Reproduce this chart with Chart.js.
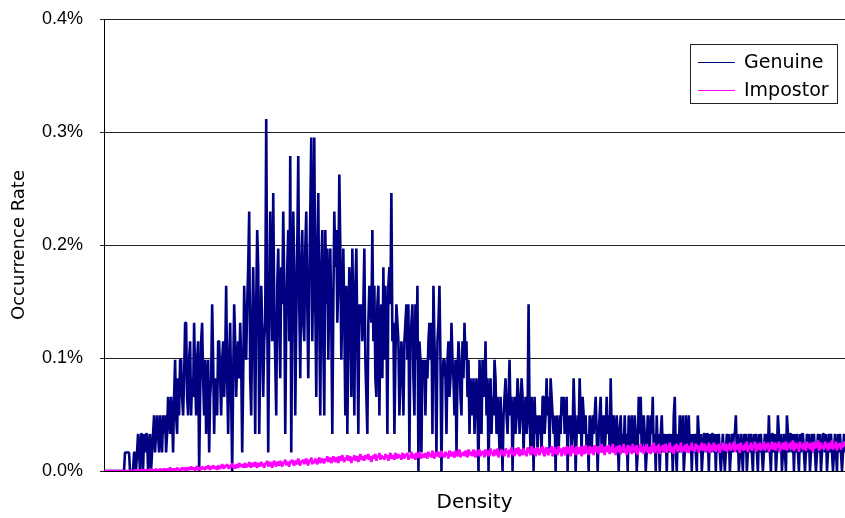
<!DOCTYPE html>
<html>
<head>
<meta charset="utf-8">
<script src="https://cdn.jsdelivr.net/npm/chart.js@4.4.1/dist/chart.umd.min.js"></script>
<style>
  html, body { margin: 0; padding: 0; background: #fff; }
  #wrap { width: 845px; height: 518px; }
</style>
</head>
<body>
<div id="wrap"><canvas id="rateChart"></canvas></div>
<script>
// Occurrence rate per density bin.
// Genuine: counts per bin (one count = 0.0164 % of all genuine samples), 20 bins per row.
const genuineCounts = [
    0,0,0,0,0,0,0,0,0,0,0,0,0,0,0,0,0,0,0,0,
    0,1,1,1,1,1,0,0,0,0,1,1,0,1,2,1,0,2,2,0,
    2,1,2,2,0,1,2,0,1,2,3,1,2,3,2,1,3,2,1,3,
    2,3,1,2,4,3,2,4,3,1,4,6,3,2,5,3,6,6,4,3,
    5,8,8,4,3,6,7,3,5,4,8,5,3,6,7,0,4,7,8,5,
    3,6,2,5,6,1,4,5,9,6,2,5,4,3,7,7,5,3,6,7,
    4,6,10,5,2,6,8,4,0,5,9,7,4,6,7,5,8,6,1,5,
    10,7,6,9,11,14,5,3,8,11,7,2,9,13,11,2,6,10,8,4,
    7,8,19,9,1,8,14,10,7,15,9,6,3,10,12,8,5,11,9,14,
    10,2,8,11,13,7,17,1,9,14,11,3,8,12,17,9,5,11,13,8,
    7,12,14,9,5,10,14,18,7,11,18,9,4,12,15,8,3,11,13,7,
    3,13,9,12,6,10,12,8,2,9,14,11,13,8,10,16,12,6,9,12,
    8,3,10,2,7,11,9,4,12,8,3,10,12,7,2,9,8,9,7,9,
    12,6,4,2,8,10,9,8,13,7,10,5,4,9,10,3,8,9,5,11,
    6,10,8,2,10,11,9,15,7,8,2,6,9,8,7,3,5,7,6,3,
    7,8,9,6,9,1,7,8,9,5,3,9,6,10,0,7,6,1,6,5,
    6,3,6,5,7,8,6,8,2,10,7,5,1,7,8,10,6,0,5,6,
    6,5,2,6,7,4,5,8,6,5,3,6,1,5,7,6,4,3,7,5,
    8,6,7,4,6,2,5,4,3,5,2,4,5,3,0,6,4,2,6,5,
    4,7,3,5,0,4,5,2,4,3,6,5,2,4,3,1,4,2,0,3,
    4,5,3,2,4,6,3,4,0,3,4,2,3,5,4,2,3,5,4,1,
    3,4,2,3,9,3,1,4,3,0,4,2,3,1,3,2,3,1,4,4,
    2,3,5,3,4,1,5,4,3,2,3,0,3,2,1,3,2,4,3,4,
    2,3,4,0,3,2,3,1,2,5,3,0,2,3,2,5,3,1,4,3,
    2,3,1,2,0,3,2,1,3,2,3,4,2,0,2,3,4,1,2,3,
    1,2,4,2,3,1,5,2,1,3,2,1,3,2,0,2,3,1,2,1,
    3,1,2,0,3,2,1,3,2,1,3,2,0,1,4,2,4,1,2,3,
    2,0,1,3,2,1,3,2,4,1,2,0,3,1,2,0,2,3,1,2,
    1,2,0,2,1,2,1,2,0,3,4,1,0,2,1,3,2,1,3,0,
    1,3,2,1,3,1,2,0,2,1,2,1,0,3,2,1,2,0,1,2,
    2,1,2,2,0,2,1,2,2,1,2,0,2,1,2,1,0,1,2,1,
    0,1,2,1,2,0,1,2,1,2,2,3,1,2,0,1,2,1,0,2,
    1,2,0,1,2,1,2,1,0,2,1,2,1,0,2,1,2,1,0,1,
    2,1,2,1,3,1,0,2,2,1,2,0,1,3,2,1,2,0,1,2,
    1,0,3,2,1,2,2,1,2,0,2,1,2,1,0,2,1,2,2,1,
    0,1,2,1,2,0,1,2,1,2,1,0,1,2,1,2,0,1,2,2,
    1,2,0,1,2,1,2,1,0,1,2,1,0,2,1,2,1,0,1,2,
    1
];
const genuineStep = 0.0164;

// Impostor: rate per bin in thousandths of a percent, 20 bins per row.
const impostorMilli = [
    0,0,0,0,0,0,0,0,0,0,0,0,0,0,0,0,0,0,0,0,
    0,0,0,0,0,0,0,0,0,0,0,0,1,0,0,1,0,0,1,0,
    1,0,1,0,0,1,0,2,0,1,0,1,2,0,1,0,2,1,0,1,
    2,0,1,2,0,1,3,1,0,2,1,2,0,3,1,2,0,1,3,2,
    1,3,0,2,3,1,2,4,1,3,2,0,3,4,1,2,3,1,4,2,
    3,1,4,2,5,3,1,4,2,5,3,2,4,1,5,3,2,4,6,3,
    2,5,4,6,3,2,5,4,7,3,5,2,6,4,3,7,5,4,6,3,
    5,7,3,6,4,8,5,3,7,6,4,8,5,3,7,6,4,8,6,5,
    3,7,6,9,4,6,8,5,3,7,9,6,4,8,7,5,9,6,4,8,
    7,10,5,8,6,4,9,7,10,6,5,9,8,6,11,7,5,9,8,10,
    6,9,11,7,5,10,8,12,6,9,7,11,8,6,10,12,7,9,11,8,
    7,11,9,13,8,10,12,7,9,13,10,8,12,11,7,13,9,11,14,10,
    8,12,10,14,9,11,13,7,12,10,14,9,11,13,8,12,15,10,11,13,
    9,14,11,12,15,10,13,8,12,14,11,15,9,13,12,16,10,14,11,13,
    10,15,12,14,9,13,16,11,14,12,10,16,13,11,15,12,14,10,16,13,
    11,15,13,16,10,14,12,17,11,15,13,10,16,14,12,17,13,11,15,14,
    12,16,14,11,17,13,15,12,18,14,11,16,15,13,17,12,14,18,13,15,
    12,17,14,16,11,18,15,13,17,14,12,18,16,13,15,19,12,16,14,17,
    13,18,15,12,19,16,14,17,13,19,15,12,18,16,14,19,13,17,15,18,
    12,19,16,14,18,13,20,15,17,13,19,16,14,20,12,17,15,19,14,18,
    13,20,16,18,12,19,15,21,14,17,13,20,18,15,21,13,17,19,14,20,
    15,18,13,21,16,19,14,22,17,15,20,13,18,21,16,14,20,17,22,15,
    13,19,21,16,14,20,18,22,13,17,21,15,19,14,22,17,20,13,18,21,
    16,14,22,19,15,21,13,18,23,16,20,14,22,17,15,21,19,13,22,18,
    15,23,17,20,14,22,18,16,21,14,23,19,17,22,15,20,18,24,16,21,
    14,22,19,17,23,15,21,18,24,16,20,14,22,19,17,23,15,21,18,24,
    16,20,14,23,19,17,22,15,24,18,21,16,23,14,20,19,24,17,21,15,
    22,18,24,16,21,19,15,23,17,25,20,16,22,18,24,15,21,19,23,17,
    20,24,16,22,18,25,17,21,19,15,23,20,24,17,22,18,25,16,21,19,
    23,17,24,20,16,22,19,25,18,21,17,24,20,23,16,22,19,25,18,21,
    24,17,22,19,25,16,21,23,18,25,20,17,23,19,24,16,22,20,25,18,
    21,24,17,23,19,25,18,22,20,26,17,23,19,24,21,16,25,20,22,18,
    24,19,26,17,22,20,25,18,23,21,26,17,24,19,22,25,18,23,20,26,
    18,24,21,25,17,23,20,26,19,22,25,18,24,21,26,17,23,20,25,19,
    22,26,18,24,21,25,19,23,27,18,22,25,20,24,17,26,21,23,19,25,
    22,18,26,21,24,19,25,22,17,26,20,24,21,27,18,23,25,20,22,19,
    26,21,24,18,25,22,20,27,19,23,21,26,18,24,22,25,19,23,21,26,
    22
];

const seriesNames = ['Genuine', 'Impostor'];
const seriesColors = ['#000080', '#ff00ff'];
const yTicks = [0, 0.1, 0.2, 0.3, 0.4];

const bins = genuineCounts.map((_, i) => i);
const genuineRate = genuineCounts.map(c => c * genuineStep);
const impostorRate = impostorMilli.map(v => v / 1000);

// legend drawn as a boxed key in the top right of the plot
const boxedLegend = {
    id: 'boxedLegend',
    afterDraw(chart) {
        const ctx = chart.ctx;
        const area = chart.chartArea;
        const w = 147, h = 59;
        const x = area.right - 8 - w;
        const y = area.top + 25;
        ctx.save();
        ctx.fillStyle = '#fff';
        ctx.fillRect(x, y, w, h);
        ctx.strokeStyle = '#222';
        ctx.lineWidth = 1;
        ctx.strokeRect(x + 0.5, y + 0.5, w, h);
        ctx.font = '19px "DejaVu Sans"';
        ctx.textBaseline = 'middle';
        chart.data.datasets.forEach((ds, i) => {
            const ly = y + 18 + i * 28;
            ctx.strokeStyle = ds.borderColor;
            ctx.lineWidth = 1.2;
            ctx.beginPath();
            ctx.moveTo(x + 8, ly + 0.5);
            ctx.lineTo(x + 45, ly + 0.5);
            ctx.stroke();
            ctx.fillStyle = '#000';
            ctx.fillText(ds.label, x + 54, ly + 1);
        });
        ctx.restore();
    }
};

const ctx = document.getElementById('rateChart').getContext('2d');
const rateChart = new Chart(ctx, {
    type: 'line',
    data: {
        labels: bins,
        datasets: [{
            label: seriesNames[0],
            data: genuineRate,
            borderColor: seriesColors[0],
            borderWidth: 2.6,
            borderJoinStyle: 'bevel',
            pointRadius: 0,
            tension: 0,
            order: 1
        }, {
            label: seriesNames[1],
            data: impostorRate,
            borderColor: seriesColors[1],
            borderWidth: 2.6,
            borderJoinStyle: 'bevel',
            pointRadius: 0,
            tension: 0,
            order: 0
        }]
    },
    options: {
        responsive: true,
        maintainAspectRatio: false,
        animation: false,
        events: [],
        layout: { padding: { top: 19, right: 0, bottom: 0, left: 0 } },
        scales: {
            x: {
                type: 'linear',
                min: 0,
                max: bins.length - 1,
                grid: { drawOnChartArea: false, drawTicks: false },
                border: { color: '#000' },
                ticks: { display: false },
                title: {
                    display: true,
                    text: 'Density',
                    color: '#000',
                    font: { family: 'DejaVu Sans', size: 20 },
                    padding: { top: 0, bottom: 3 }
                },
                afterFit: function(scale) {
                    scale.height = 47;
                    scale.paddingLeft = 0;
                    scale.paddingRight = 0;
                }
            },
            y: {
                min: 0,
                max: 0.4,
                grid: { color: '#222', tickLength: 4 },
                border: { color: '#000' },
                afterBuildTicks: function(scale) {
                    scale.ticks = yTicks.map(v => ({ value: v }));
                },
                ticks: {
                    color: '#000',
                    padding: 17,
                    font: { family: 'Liberation Sans', size: 18 },
                    callback: function(value) {
                        return value.toFixed(1) + '%';
                    }
                },
                title: {
                    display: true,
                    text: 'Occurrence Rate',
                    color: '#000',
                    font: { family: 'DejaVu Sans', size: 18 },
                    padding: { top: 9, bottom: 0 }
                },
                afterFit: function(scale) {
                    scale.width = 104;
                    scale.paddingTop = 0;
                    scale.paddingBottom = 0;
                }
            }
        },
        plugins: {
            legend: { display: false },
            tooltip: { enabled: false }
        }
    },
    plugins: [boxedLegend]
});
</script>
</body>
</html>
